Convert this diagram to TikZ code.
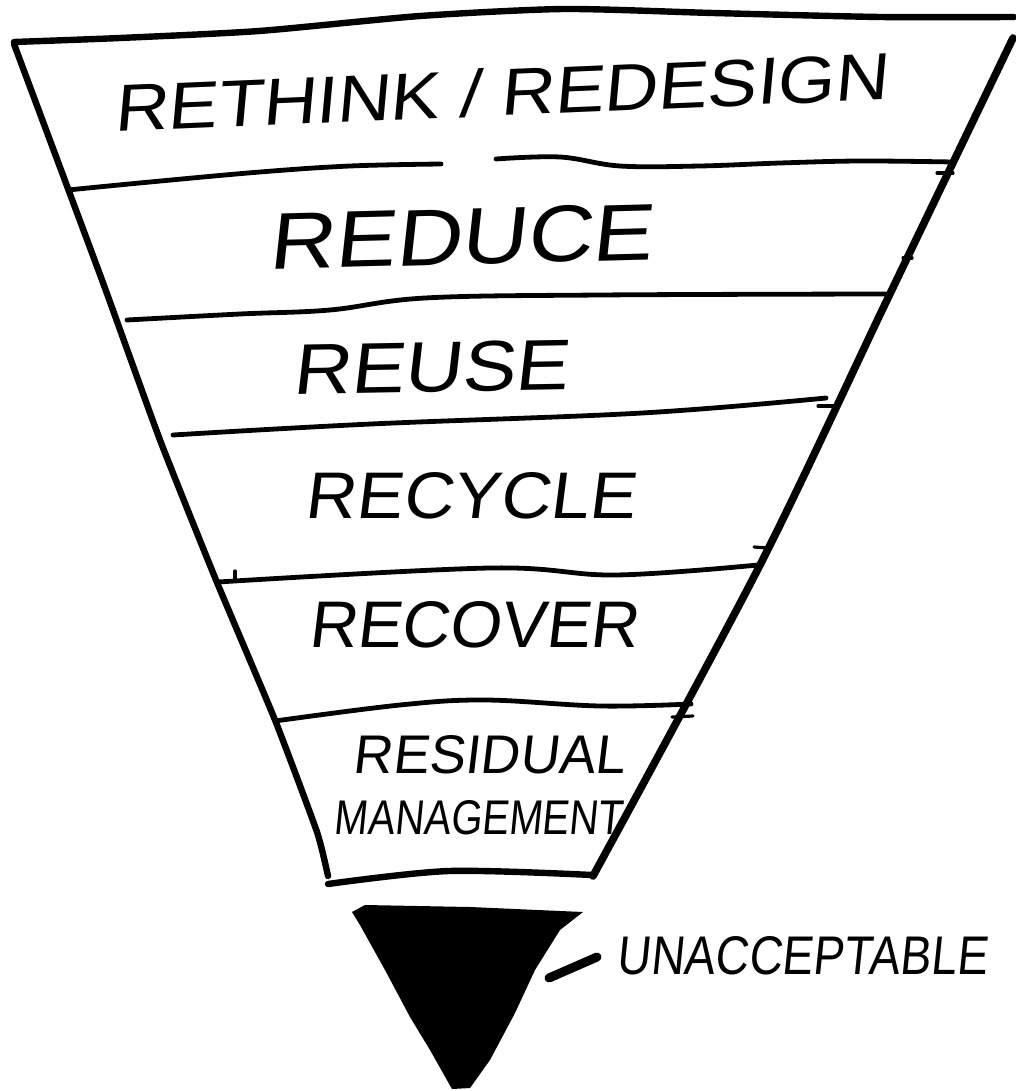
\documentclass[tikz,border=0pt]{standalone}
\usepackage{fontspec}
\usepackage{graphicx}
\newfontfamily\hand{Liberation Sans}[FakeSlant=0.12]
\newcommand{\fitto}[3]{\resizebox{#1}{#2}{\hand #3}}
\begin{document}
\begin{tikzpicture}[x=0.5pt,y=-0.5pt,
  edge/.style={line width=3.2pt,line cap=round,line join=round},
  divider/.style={line width=2.4pt,line cap=round,line join=round},
  tick/.style={line width=1.6pt,line cap=round},
  label/.style={inner sep=0pt,outer sep=0pt}]
\useasboundingbox (0,0) rectangle (1016,1091);
% funnel outline
\draw[edge] plot[smooth,tension=0.4] coordinates {(14,42) (120,38) (259,31) (420,16) (564,9) (713,13) (880,17) (1014,17)};
\draw[edge] plot[smooth,tension=0.3] coordinates {(14,44) (102,280) (160,440) (216,580) (275,720) (317,832) (328,876)};
\draw[edge,line width=3.8pt] plot[smooth,tension=0.5] coordinates {(1013,38) (887,300) (760,565) (593,876)};
\draw[edge] plot[smooth,tension=0.5] coordinates {(328,884) (449,871) (592,875)};
% dividers
\draw[divider] plot[smooth,tension=0.6] coordinates {(68,190) (150,182) (260,172) (350,166) (441,164)};
\draw[divider] plot[smooth,tension=0.6] coordinates {(496,159) (560,157) (620,166) (700,166) (780,163) (860,161) (953,162)};
\draw[divider] plot[smooth,tension=0.6] coordinates {(127,320) (240,314) (330,310) (425,298) (600,295) (886,294)};
\draw[divider] plot[smooth,tension=0.6] coordinates {(173,435) (371,424) (642,413) (826,398)};
\draw[divider] plot[smooth,tension=0.6] coordinates {(218,582) (490,568) (615,575) (758,565)};
\draw[divider] plot[smooth,tension=0.6] coordinates {(275,721) (400,705) (485,700) (600,706) (691,704)};
% small stray marks
\draw[tick] (937,173) -- (953,173);
\draw[tick] (903,258) -- (912,258);
\draw[tick] (818,406) -- (837,406);
\draw[tick] (754,547) -- (768,548);
\draw[tick] (672,717) -- (693,716);
\draw[tick] (235,571) -- (235,578);
\fill (973,115) circle (1.6);
\fill (972,123) circle (1.4);
% unacceptable triangle
\fill plot coordinates {(352,912) (365,905) (470,907) (583,912) (560,930) (535,970) (515,1013) (490,1060) (470,1088) (452,1089) (430,1050) (410,1017) (385,970) (360,925)} -- cycle;
\coordinate (dashA) at (549,978);
\coordinate (dashB) at (597,957);
\draw[line width=4.5pt,line cap=round] (dashA) -- (dashB);
% labels
\node[label,rotate=2.4] (rethink) at (500,92) {\fitto{387pt}{24pt}{RETHINK / REDESIGN}};
\node[label,rotate=1.5] (reduce) at (460,237) {\fitto{192pt}{28pt}{REDUCE}};
\node[label,rotate=1] (reuse) at (430,367) {\fitto{138pt}{25pt}{REUSE}};
\node[label] (recycle) at (470,496) {\fitto{165pt}{23pt}{RECYCLE}};
\node[label] (recover) at (473,625) {\fitto{165pt}{23pt}{RECOVER}};
\node[label] (residual) at (489,755) {\fitto{136pt}{19pt}{RESIDUAL}};
\node[label] (management) at (478,818) {\fitto{144pt}{17pt}{MANAGEMENT}};
\node[label] (unacc) at (802,956) {\fitto{185pt}{19pt}{UNACCEPTABLE}};
\end{tikzpicture}
\end{document}
